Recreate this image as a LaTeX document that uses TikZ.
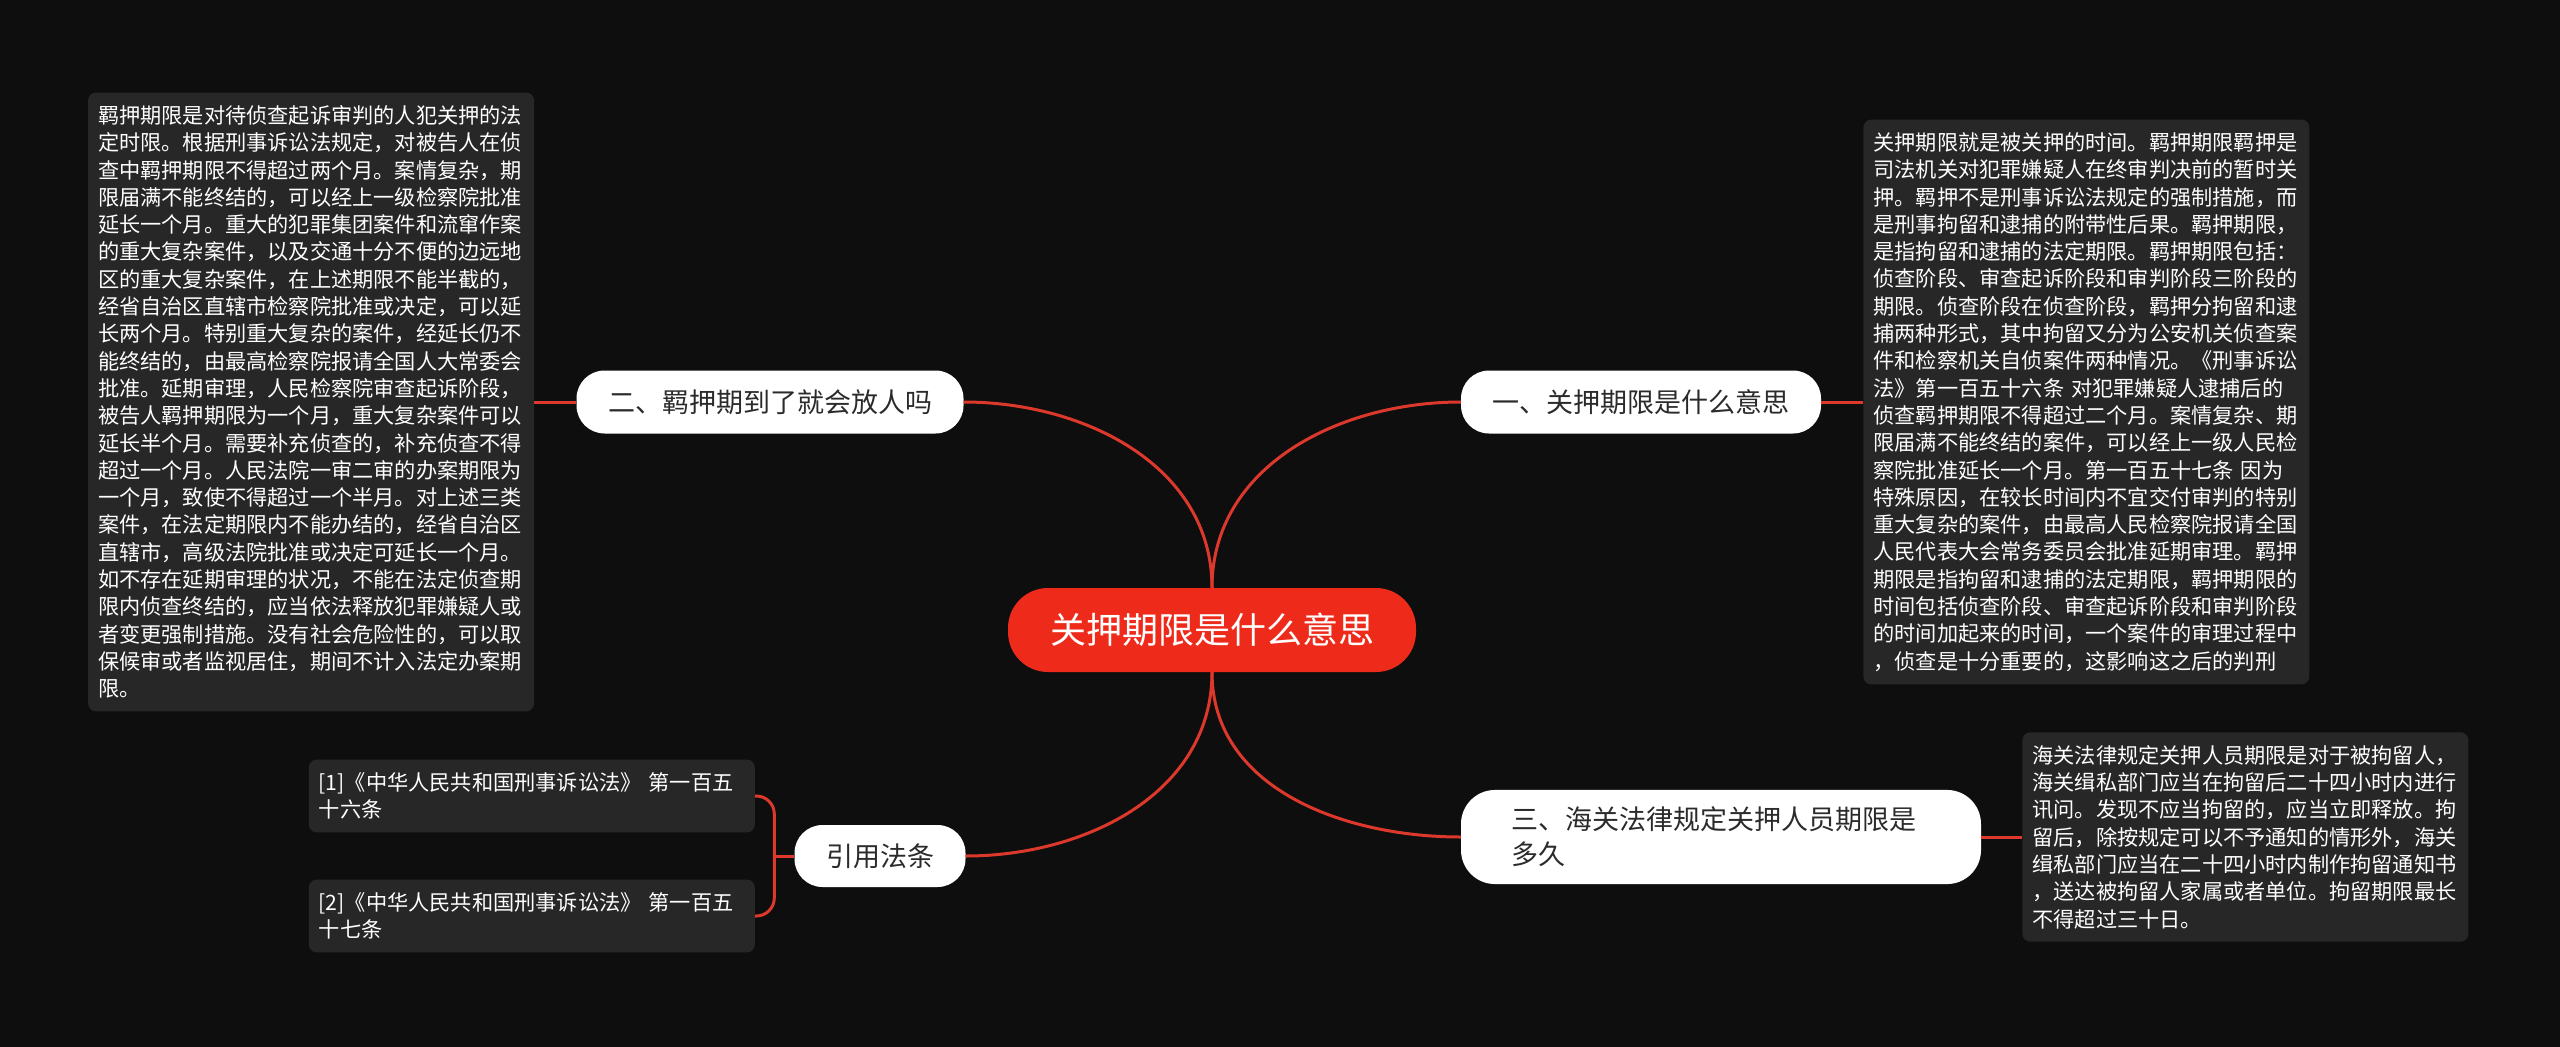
\documentclass[tikz,border=0pt]{standalone}
\usepackage{fontspec}
\newfontfamily\cjk{Noto Sans CJK SC}
\usetikzlibrary{positioning}
\definecolor{bgdark}{HTML}{0E0E0E}
\definecolor{boxgray}{HTML}{272727}
\definecolor{rootred}{HTML}{EE2A1A}
\definecolor{linkred}{HTML}{DD382C}
\definecolor{inkdark}{HTML}{2B2B2B}

\begin{document}
\begin{tikzpicture}[x=1pt,y=1pt,
  root/.style={fill=rootred,text=white,rounded corners=40pt,minimum height=84pt,inner xsep=42pt,font=\cjk\fontsize{36}{44}\selectfont},
  branch/.style={fill=white,text=inkdark,rounded corners=28pt,minimum height=63pt,inner xsep=31.5pt,font=\cjk\fontsize{27}{35}\selectfont},
  note/.style={fill=boxgray,text=white,rounded corners=8pt,text width=426pt,align=left,inner xsep=10pt,inner ysep=13pt,font=\cjk\fontsize{21.2}{27.3}\selectfont},
  link/.style={draw=linkred,line width=3pt}]
  \useasboundingbox (0,0) rectangle (2560,-1047);
  \fill[bgdark] (0,0) rectangle (2560,-1047);

  \node[root] (root) at (1212,-630) {关押期限是什么意思};
  \node[branch] (one) at (1641,-402) {一、关押期限是什么意思};
  \node[branch] (two) at (770,-402) {二、羁押期到了就会放人吗};
  \node[branch,text width=420pt,align=left,inner xsep=50pt,inner ysep=17pt,rounded corners=34pt] (three) at (1721,-837) {三、海关法律规定关押人员期限是\\多久};
  \node[branch,minimum height=62pt] (refs) at (880,-856) {引用法条};

  \node[note] (note1) [right=42pt of one] {关押期限就是被关押的时间。羁押期限羁押是\\
司法机关对犯罪嫌疑人在终审判决前的暂时关\\
押。羁押不是刑事诉讼法规定的强制措施，而\\
是刑事拘留和逮捕的附带性后果。羁押期限，\\
是指拘留和逮捕的法定期限。羁押期限包括：\\
侦查阶段、审查起诉阶段和审判阶段三阶段的\\
期限。侦查阶段在侦查阶段，羁押分拘留和逮\\
捕两种形式，其中拘留又分为公安机关侦查案\\
件和检察机关自侦案件两种情况。《刑事诉讼\\
法》第一百五十六条 对犯罪嫌疑人逮捕后的\\
侦查羁押期限不得超过二个月。案情复杂、期\\
限届满不能终结的案件，可以经上一级人民检\\
察院批准延长一个月。第一百五十七条 因为\\
特殊原因，在较长时间内不宜交付审判的特别\\
重大复杂的案件，由最高人民检察院报请全国\\
人民代表大会常务委员会批准延期审理。羁押\\
期限是指拘留和逮捕的法定期限，羁押期限的\\
时间包括侦查阶段、审查起诉阶段和审判阶段\\
的时间加起来的时间，一个案件的审理过程中\\
，侦查是十分重要的，这影响这之后的判刑};
  \node[note] (note2) [left=42pt of two] {羁押期限是对待侦查起诉审判的人犯关押的法\\
定时限。根据刑事诉讼法规定，对被告人在侦\\
查中羁押期限不得超过两个月。案情复杂，期\\
限届满不能终结的，可以经上一级检察院批准\\
延长一个月。重大的犯罪集团案件和流窜作案\\
的重大复杂案件，以及交通十分不便的边远地\\
区的重大复杂案件，在上述期限不能半截的，\\
经省自治区直辖市检察院批准或决定，可以延\\
长两个月。特别重大复杂的案件，经延长仍不\\
能终结的，由最高检察院报请全国人大常委会\\
批准。延期审理，人民检察院审查起诉阶段，\\
被告人羁押期限为一个月，重大复杂案件可以\\
延长半个月。需要补充侦查的，补充侦查不得\\
超过一个月。人民法院一审二审的办案期限为\\
一个月，致使不得超过一个半月。对上述三类\\
案件，在法定期限内不能办结的，经省自治区\\
直辖市，高级法院批准或决定可延长一个月。\\
如不存在延期审理的状况，不能在法定侦查期\\
限内侦查终结的，应当依法释放犯罪嫌疑人或\\
者变更强制措施。没有社会危险性的，可以取\\
保候审或者监视居住，期间不计入法定办案期\\
限。};
  \node[note] (note3) [right=41pt of three] {海关法律规定关押人员期限是对于被拘留人，\\
海关缉私部门应当在拘留后二十四小时内进行\\
讯问。发现不应当拘留的，应当立即释放。拘\\
留后，除按规定可以不予通知的情形外，海关\\
缉私部门应当在二十四小时内制作拘留通知书\\
，送达被拘留人家属或者单位。拘留期限最长\\
不得超过三十日。};
  \node[note,anchor=east] (cite1) at (755,-796) {[1]《中华人民共和国刑事诉讼法》 第一百五\\十六条};
  \node[note,anchor=east] (cite2) at (755,-916) {[2]《中华人民共和国刑事诉讼法》 第一百五\\十七条};
  \coordinate (fork) at ([xshift=-20pt]refs.west);

  \path[link]
    (root.north) edge[out=90,in=180] (one.west)
                 edge[out=90,in=0] (two.east)
    (root.south) edge[out=-90,in=180] (three.west)
                 edge[out=-90,in=0] (refs.east)
    (one) edge (note1)
    (two) edge (note2)
    (three) edge (note3)
    (refs.west) edge (fork);
  \draw[link,rounded corners=18pt] (cite1.east) -| (fork) |- (cite2.east);
\end{tikzpicture}
\end{document}
